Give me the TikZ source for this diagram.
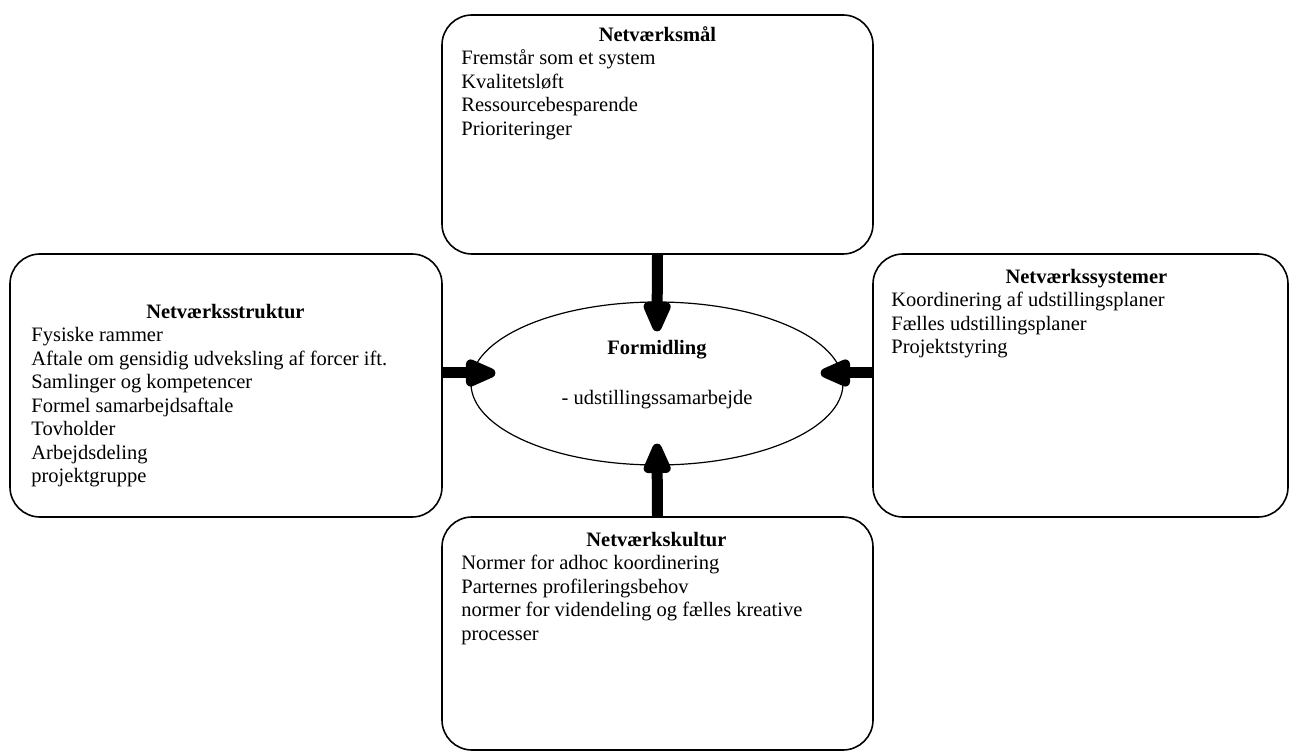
\documentclass[tikz,border=0pt]{standalone}
\usepackage{fontspec}
\setmainfont{Liberation Serif}
\usetikzlibrary{arrows.meta,shapes.geometric,calc}

\begin{document}
\begin{tikzpicture}[x=1pt, y=-1pt, >={Triangle[length=38pt, width=29pt, round]},
	boks/.style={draw, rounded corners=30pt, line width=1.6pt, inner sep=0pt},
	pil/.style={line width=11pt},
	tekst/.style={inner sep=0pt, anchor=north west, align=left, font=\fontsize{20.5}{23.5}\selectfont}]
	\useasboundingbox (0,0) rectangle (1294,751);

		% the four boxes
		\node (maal) at (657.5,134.5) 		[boks, minimum width = 431pt, minimum height = 239pt] {};
		\node (struktur) at (226,385.5) 	[boks, minimum width = 432pt, minimum height = 263pt] {};
		\node (systemer) at (1080.5,385.5) 	[boks, minimum width = 415pt, minimum height = 263pt] {};
		\node (kultur) at (657.5,633.5) 	[boks, minimum width = 431pt, minimum height = 233pt] {};

		% the middle
		\node (formidling) at (657,383.5) [ellipse, draw, line width = 1.2pt, minimum width = 372pt, minimum height = 163pt, inner sep = 0pt] {};
		\node (formidlingtxt) at (657,375) [tekst, anchor = center, align = center] {\textbf{Formidling}\\[26.5pt]- udstillingssamarbejde};

		\node (maaltxt) at ([xshift = 20pt, yshift = -10.5pt]maal.north west) [tekst] {\makebox[392pt]{\strut\textbf{Netværksmål}}\\
			Fremstår som et system\\ Kvalitetsløft\\ Ressourcebesparende\\ Prioriteringer};
		\node (strukturtxt) at ([xshift = 22pt, yshift = -48.5pt]struktur.north west) [tekst] {\makebox[388pt]{\strut\textbf{Netværksstruktur}}\\
			Fysiske rammer\\ Aftale om gensidig udveksling af forcer ift.\\ Samlinger og kompetencer\\ Formel samarbejdsaftale\\ Tovholder\\ Arbejdsdeling\\ projektgruppe};
		\node (systemertxt) at ([xshift = 19pt, yshift = -13.5pt]systemer.north west) [tekst] {\makebox[390pt]{\strut\textbf{Netværkssystemer}}\\
			Koordinering af udstillingsplaner\\ Fælles udstillingsplaner\\ Projektstyring};
		\node (kulturtxt) at ([xshift = 20pt, yshift = -13.5pt]kultur.north west) [tekst] {\makebox[390pt]{\strut\textbf{Netværkskultur}}\\
			Normer for adhoc koordinering\\ Parternes profileringsbehov\\ normer for videndeling og fælles kreative\\ processer};

		\draw [pil] (maal.south) edge [->] ([yshift = -30pt]formidling.north) (kultur.north) edge [->] ([yshift = 22pt]formidling.south)
			([yshift = 12.5pt]struktur.east) edge [->] ([xshift = 25pt, yshift = 10.5pt]formidling.west)
			([yshift = 12.5pt]systemer.west) edge [->] ([xshift = -23pt, yshift = 10.5pt]formidling.east);
\end{tikzpicture}
\end{document}
